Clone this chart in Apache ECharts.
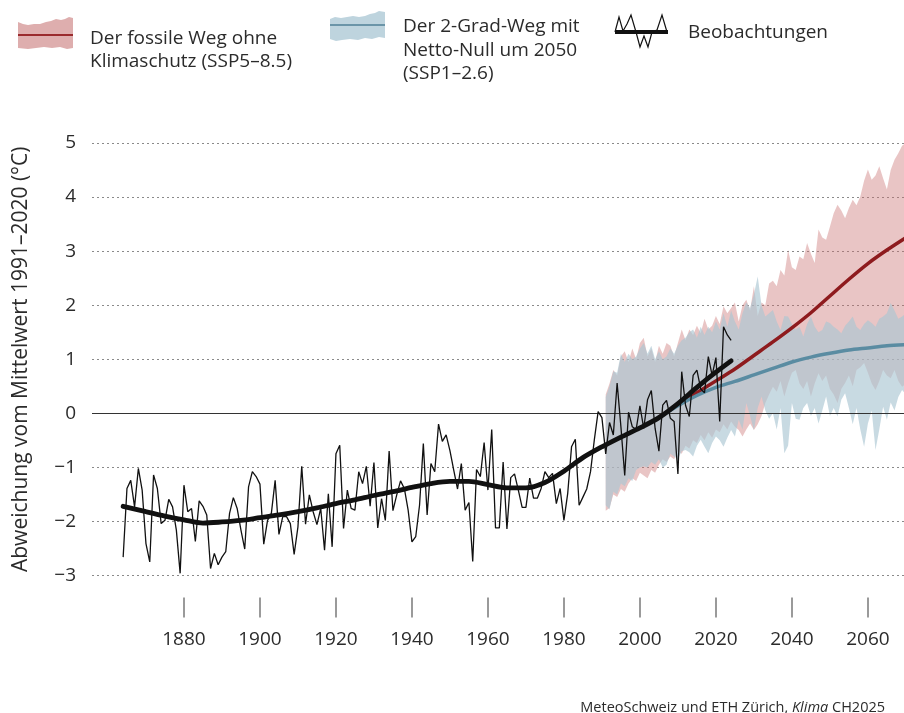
<!DOCTYPE html>
<html>
<head>
<meta charset="utf-8">
<script src="https://cdn.jsdelivr.net/npm/echarts@6/dist/echarts.min.js"></script>
<style>
html,body{margin:0;padding:0;background:#fff;}
#chart{width:904px;height:713px;}
</style>
</head>
<body>
<div id="chart"></div>
<script>
// ---- Data ----
const obsStartYear = 1864;
const observations = [
  -2.66,-1.39,-1.24,-1.73,-1.02,-1.42,-2.41,-2.75,-1.14,-1.39,
  -2.04,-1.98,-1.59,-1.73,-2.16,-2.96,-1.33,-1.82,-1.76,-2.37,
  -1.62,-1.72,-1.88,-2.87,-2.59,-2.80,-2.66,-2.56,-1.85,-1.56,
  -1.76,-2.16,-2.51,-1.36,-1.08,-1.17,-1.31,-2.42,-1.98,-1.85,
  -1.24,-2.24,-1.91,-1.91,-2.04,-2.61,-2.10,-0.98,-2.05,-1.51,
  -1.82,-2.06,-1.76,-2.53,-1.49,-2.47,-0.75,-0.59,-2.13,-1.42,
  -1.76,-1.79,-1.08,-1.30,-0.98,-1.72,-0.91,-2.12,-1.58,-1.98,
  -0.70,-1.80,-1.51,-1.25,-1.39,-1.79,-2.38,-2.28,-1.70,-0.56,
  -1.88,-0.93,-1.08,-0.20,-0.52,-0.40,-0.69,-1.05,-1.40,-0.93,
  -1.79,-1.65,-2.74,-1.04,-1.17,-0.54,-1.42,-0.30,-2.12,-2.12,
  -0.90,-2.14,-1.19,-1.12,-1.42,-1.74,-1.74,-1.20,-1.57,-1.57,
  -1.39,-1.08,-1.19,-1.11,-1.67,-1.39,-1.98,-1.48,-0.62,-0.48,
  -1.70,-1.55,-1.40,-1.08,-0.49,0.03,-0.08,-0.75,-0.17,-0.40,
  0.56,-0.25,-1.15,0.02,-0.25,-0.30,0.14,-0.28,0.25,0.42,
  -0.28,-0.70,0.15,0.24,-0.09,-0.15,-1.12,0.77,0.15,-0.06,
  0.70,0.80,0.45,0.38,1.05,0.70,1.03,-0.15,1.60,1.45,1.35
];
const trendYears  = [1864,1870,1875,1880,1885,1890,1895,1900,1905,1910,1915,1920,1925,1930,1935,1940,1945,1950,1955,1960,1965,1970,1975,1980,1985,1990,1995,2000,2005,2010,2015,2020,2024];
const trendValues = [-1.72,-1.82,-1.90,-1.97,-2.03,-2.01,-1.98,-1.93,-1.88,-1.82,-1.75,-1.67,-1.60,-1.52,-1.45,-1.37,-1.30,-1.26,-1.26,-1.32,-1.38,-1.38,-1.28,-1.07,-0.82,-0.62,-0.44,-0.27,-0.08,0.18,0.48,0.76,0.97];

const projStartYear = 1991;
const ssp585Hi = [
  0.35,0.55,0.80,0.70,1.05,1.15,0.95,1.20,1.00,1.30,
  1.40,1.05,1.20,0.95,1.25,1.10,1.30,1.25,1.05,1.30,
  1.55,1.35,1.55,1.45,1.62,1.48,1.75,1.55,1.62,1.80,
  1.65,1.98,1.85,1.95,2.05,1.70,2.00,2.10,1.90,2.35,
  1.80,2.05,2.00,2.40,2.45,2.35,2.65,2.55,3.02,2.70,
  2.65,2.90,2.85,3.15,2.95,2.78,3.40,3.25,3.21,3.45,
  3.70,3.86,3.75,3.61,3.80,3.95,3.85,4.01,4.30,4.51,
  4.32,4.40,4.57,4.35,4.14,4.50,4.69,4.81,4.95,5.00
];
const ssp585Lo = [
  -1.80,-1.75,-1.50,-1.55,-1.40,-1.45,-1.30,-1.20,-1.25,-1.10,
  -1.15,-1.20,-1.05,-1.10,-0.95,-0.85,-0.90,-0.80,-0.85,-0.70,
  -0.75,-0.60,-0.65,-0.50,-0.55,-0.40,-0.50,-0.35,-0.45,-0.30,
  -0.35,-0.20,-0.30,-0.15,-0.25,-0.31,-0.43,-0.30,-0.19,-0.31,
  -0.20,-0.05,0.19,0.35,0.49,0.40,0.60,0.31,0.55,0.75,
  0.80,0.55,0.45,0.60,0.31,0.55,0.74,0.60,0.70,0.45,
  0.35,0.19,0.45,0.56,0.70,0.50,0.80,0.85,0.93,0.75,
  0.55,0.43,0.60,0.80,0.70,0.65,0.80,0.60,0.49,0.55
];
const ssp126Hi = [
  0.30,0.50,0.78,0.75,1.10,0.95,1.10,1.00,1.05,1.20,
  1.30,1.10,1.25,1.00,1.15,1.00,1.05,1.20,1.10,1.25,
  1.35,1.40,1.50,1.55,1.40,1.60,1.45,1.60,1.50,1.70,
  1.55,1.85,1.60,1.90,1.70,1.55,1.85,2.05,1.95,2.20,
  2.53,2.00,1.79,1.85,1.91,1.70,1.54,1.80,1.79,1.65,
  1.55,1.60,1.42,1.65,1.79,1.60,1.50,1.54,1.70,1.67,
  1.60,1.55,1.48,1.62,1.70,1.79,1.60,1.54,1.65,1.72,
  1.67,1.60,1.75,1.79,1.85,2.04,1.90,1.75,1.79,1.85
];
const ssp126Lo = [
  -1.70,-1.78,-1.45,-1.50,-1.30,-1.35,-1.20,-1.25,-1.05,-1.00,
  -0.98,-1.00,-0.90,-0.95,-0.85,-1.00,-0.95,-0.75,-0.80,-0.85,
  -0.70,-0.68,-0.72,-0.80,-0.60,-0.49,-0.62,-0.74,-0.55,-0.43,
  -0.50,-0.62,-0.45,-0.31,-0.43,-0.12,-0.30,0.19,-0.05,-0.31,
  0.10,0.31,0.05,-0.10,0.00,-0.30,0.10,-0.74,-0.60,0.19,
  -0.10,-0.12,0.10,0.19,-0.05,0.10,-0.19,0.05,0.31,-0.05,
  0.10,-0.06,0.25,0.37,0.10,-0.20,0.10,-0.30,-0.62,-0.19,
  0.05,-0.68,-0.30,0.12,-0.12,0.20,0.05,0.30,0.43,0.35
];
const medianYears = [2005,2010,2015,2020,2025,2030,2035,2040,2045,2050,2055,2060,2065,2070];
const ssp585Median = [-0.07,0.16,0.38,0.60,0.82,1.07,1.32,1.58,1.86,2.17,2.48,2.77,3.02,3.25];
const ssp126Median = [-0.08,0.14,0.33,0.48,0.59,0.71,0.83,0.95,1.04,1.11,1.17,1.21,1.25,1.27];

const xTickYears = [1880,1900,1920,1940,1960,1980,2000,2020,2040,2060];

// ---- Build series data ----
const obsData = observations.map((v,i)=>[obsStartYear+i, v]);
const trendData = trendYears.map((y,i)=>[y, trendValues[i]]);
const yr = i => projStartYear + i;
const med585 = medianYears.map((y,i)=>[y, ssp585Median[i]]);
const med126 = medianYears.map((y,i)=>[y, ssp126Median[i]]);

function bandSeries(name, hi, lo, color, z){
  return {
    type:'custom', name:name, z:z, silent:true,
    data:[[projStartYear, hi[0]]],
    encode:{x:0, y:1},
    renderItem:function(params, api){
      const upper = hi.map((v,i)=>api.coord([yr(i), v]));
      const lower = lo.map((v,i)=>api.coord([yr(i), v])).reverse();
      return {type:'polygon', shape:{points:upper.concat(lower)}, style:{fill:color}};
    }
  };
}

const FONT = '"Open Sans", "Noto Sans", sans-serif';
const TXT = '#2b2b2b';
const LF = '19px ' + FONT;

const chart = echarts.init(document.getElementById('chart'), null, {renderer:'canvas'});

const option = {
  animation:false,
  backgroundColor:'#ffffff',
  textStyle:{fontFamily:FONT},
  grid:{left:92, right:0, top:143, bottom:137.5, containLabel:false},
  title:{
    text:'MeteoSchweiz und ETH Zürich, {i|Klima} CH2025',
    right:14, top:695,
    textStyle:{fontFamily:FONT, fontSize:14.5, fontWeight:'normal', color:TXT,
      rich:{i:{fontFamily:FONT, fontSize:14.5, fontStyle:'italic', color:TXT}}}
  },
  xAxis:{
    type:'value', min:1855.8, max:2069.5,
    offset:22,
    axisLine:{show:false, onZero:false},
    axisTick:{show:true, customValues:xTickYears, length:20, lineStyle:{color:'#7a7a7a', width:1.5}},
    axisLabel:{customValues:xTickYears, margin:33, fontSize:19, color:TXT, fontFamily:FONT,
      formatter:v=>String(Math.round(v))},
    splitLine:{show:false}
  },
  yAxis:{
    type:'value', min:-3, max:5, interval:1,
    name:'Abweichung vom Mittelwert 1991–2020 (°C)',
    nameLocation:'middle', nameGap:60, nameRotate:90,
    nameTextStyle:{fontSize:21, color:TXT, fontFamily:FONT},
    axisLine:{show:false}, axisTick:{show:false},
    axisLabel:{margin:16, fontSize:19, color:TXT, fontFamily:FONT,
      formatter:v=>String(v).replace('-','\u2212')},
    splitLine:{show:true, lineStyle:{color:'#8a8a8a', width:1, type:[2,3]}}
  },
  series:[
    bandSeries('SSP5-8.5 Band', ssp585Hi, ssp585Lo, 'rgba(200,110,110,0.4)', 2),
    bandSeries('SSP1-2.6 Band', ssp126Hi, ssp126Lo, 'rgba(170,198,210,0.65)', 3),
    {type:'line', name:'zero', data:[], z:4, silent:true,
      markLine:{silent:true, symbol:'none', label:{show:false},
        lineStyle:{color:'#333', width:1, type:'solid'}, data:[{yAxis:0}], animation:false}},
    {type:'line', name:'SSP5-8.5', data:med585, smooth:0.3, symbol:'none', z:5,
      lineStyle:{color:'#8e1b1e', width:3.5}, silent:true},
    {type:'line', name:'SSP1-2.6', data:med126, smooth:0.3, symbol:'none', z:5,
      lineStyle:{color:'#5a8ca2', width:3.5}, silent:true},
    {type:'line', name:'Beobachtungen', data:obsData, symbol:'none', z:6,
      lineStyle:{color:'#111', width:1.3}, silent:true},
    {type:'line', name:'Trend', data:trendData, smooth:0.3, symbol:'none', z:7,
      lineStyle:{color:'#111', width:4.8, cap:'round'}, silent:true}
  ],
  graphic:[
    // legend: SSP5-8.5 patch
    {type:'polygon', shape:{points:[[18,22],[23,24],[28,25],[34,24],[40,24],[46,22],[51,21],[56,19],[61,20],[65,19],[69,17],[73,18],[73,48],[67,49],[60,47],[52,48],[44,47],[36,48],[28,49],[18,48]]},
      style:{fill:'rgb(222,174,174)'}},
    {type:'line', shape:{x1:18,y1:35,x2:73,y2:35}, style:{stroke:'#9a2b2e', lineWidth:2}},
    {type:'text', left:90, top:29, style:{text:'Der fossile Weg ohne', font:LF, fill:TXT}},
    {type:'text', left:90, top:52, style:{text:'Klimaschutz (SSP5–8.5)', font:LF, fill:TXT}},
    // legend: SSP1-2.6 patch
    {type:'polygon', shape:{points:[[330,19],[335,17],[341,18],[347,17],[353,16],[359,17],[365,16],[370,14],[375,13],[379,11],[385,12],[385,38],[379,37],[372,39],[365,38],[358,40],[350,39],[342,40],[336,41],[330,39]]},
      style:{fill:'rgb(190,212,222)'}},
    {type:'line', shape:{x1:330,y1:25,x2:385,y2:25}, style:{stroke:'#6b95a8', lineWidth:2}},
    {type:'text', left:403, top:17, style:{text:'Der 2-Grad-Weg mit', font:LF, fill:TXT}},
    {type:'text', left:403, top:41, style:{text:'Netto-Null um 2050', font:LF, fill:TXT}},
    {type:'text', left:403, top:64, style:{text:'(SSP1–2.6)', font:LF, fill:TXT}},
    // legend: observations
    {type:'polyline', shape:{points:[[615,32],[619,17],[623,31],[627,24],[631,15],[636,32],[640,47],[644,36],[648,47],[652,32],[657,30],[662,15],[667,32]]},
      style:{stroke:'#111', lineWidth:1.2, fill:null}},
    {type:'line', shape:{x1:615,y1:32,x2:668,y2:32}, style:{stroke:'#111', lineWidth:4}},
    {type:'text', left:688, top:23, style:{text:'Beobachtungen', font:LF, fill:TXT}}
  ]
};
chart.setOption(option);
</script>
</body>
</html>
